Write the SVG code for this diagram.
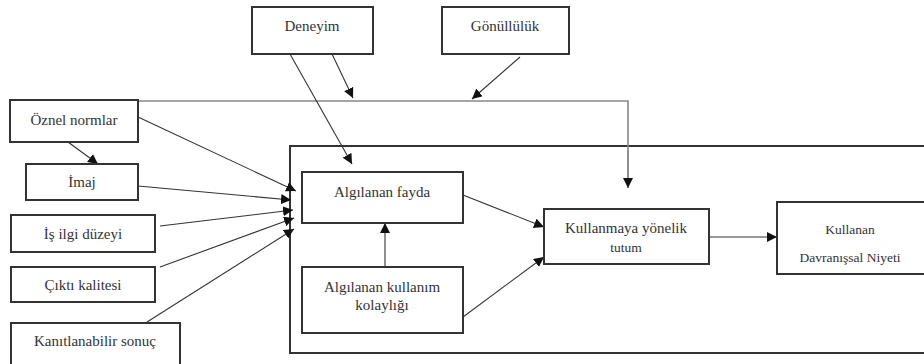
<svg xmlns="http://www.w3.org/2000/svg" width="924" height="364" viewBox="0 0 924 364">
<style>
.box{fill:#fff;stroke:#333;stroke-width:2}
.frame{fill:none;stroke:#333;stroke-width:2}
text{font-family:'Liberation Serif','Times New Roman',serif;font-size:15px;fill:#333;text-anchor:middle}
.s{font-size:13.5px}
.c{fill:none;stroke:#333;stroke-width:1.1}
.g{fill:none;stroke:#888;stroke-width:1.6}
</style>
<defs>
<marker id="ah" viewBox="0 0 10 10" refX="10" refY="5" markerWidth="10" markerHeight="10" markerUnits="userSpaceOnUse" orient="auto">
<path d="M0,0 L10,5 L0,10 z" fill="#111"/>
</marker>
</defs>
<rect x="0" y="0" width="924" height="364" fill="#fff"/>
<g id="frame"><rect class="frame" x="290" y="146" width="640" height="207"/></g>
<g id="connectors">
<polyline class="g" points="138,101 628,101 628,150"/>
<line class="c" x1="628" y1="150" x2="628" y2="188" marker-end="url(#ah)"/>
<line class="c" x1="332" y1="54" x2="353" y2="98" marker-end="url(#ah)"/>
<line class="c" x1="520" y1="57" x2="472" y2="99" marker-end="url(#ah)"/>
<line class="c" x1="290" y1="54" x2="352" y2="164" marker-end="url(#ah)"/>
<line class="c" x1="68" y1="142" x2="98" y2="164" marker-end="url(#ah)"/>
<line class="c" x1="138" y1="117" x2="296" y2="191" marker-end="url(#ah)"/>
<line class="c" x1="138" y1="186" x2="291" y2="200" marker-end="url(#ah)"/>
<line class="c" x1="160" y1="226" x2="293" y2="210" marker-end="url(#ah)"/>
<line class="c" x1="160" y1="267" x2="294" y2="218" marker-end="url(#ah)"/>
<line class="c" x1="147" y1="322" x2="294" y2="229" marker-end="url(#ah)"/>
<line class="c" x1="385" y1="267" x2="385" y2="223" marker-end="url(#ah)"/>
<line class="c" x1="463" y1="195" x2="544" y2="227" marker-end="url(#ah)"/>
<line class="c" x1="463" y1="317" x2="544" y2="257" marker-end="url(#ah)"/>
<line class="c" x1="709" y1="237" x2="777" y2="237" marker-end="url(#ah)"/>
</g>
<g id="deneyim"><rect class="box" x="252" y="7" width="121" height="47"/><text x="312" y="31">Deneyim</text></g>
<g id="gonulluluk"><rect class="box" x="442" y="7" width="127" height="47"/><text x="505" y="31">Gönüllülük</text></g>
<g id="oznel"><rect class="box" x="10" y="100" width="128" height="42"/><text x="74" y="125">Öznel normlar</text></g>
<g id="imaj"><rect class="box" x="26" y="164" width="112" height="36"/><text x="82" y="187">İmaj</text></g>
<g id="isilgi"><rect class="box" x="11" y="215" width="144" height="37"/><text x="83" y="239">İş ilgi düzeyi</text></g>
<g id="cikti"><rect class="box" x="11" y="267" width="144" height="35"/><text x="83" y="290">Çıktı kalitesi</text></g>
<g id="kanit"><rect class="box" x="11" y="323" width="169" height="50"/><text x="95" y="346">Kanıtlanabilir sonuç</text></g>
<g id="fayda"><rect class="box" x="302" y="172" width="161" height="51"/><text x="382" y="197">Algılanan fayda</text></g>
<g id="kolaylik"><rect class="box" x="302" y="267" width="161" height="66"/><text x="382" y="292">Algılanan kullanım</text><text x="382" y="310">kolaylığı</text></g>
<g id="tutum"><rect class="box" x="544" y="209" width="165" height="55"/><text x="626" y="233">Kullanmaya yönelik</text><text class="s" x="626" y="252">tutum</text></g>
<g id="niyet"><rect class="box" x="777" y="202" width="160" height="72"/><text class="s" x="850" y="234">Kullanan</text><text class="s" x="850" y="262">Davranışsal Niyeti</text></g>
</svg>
